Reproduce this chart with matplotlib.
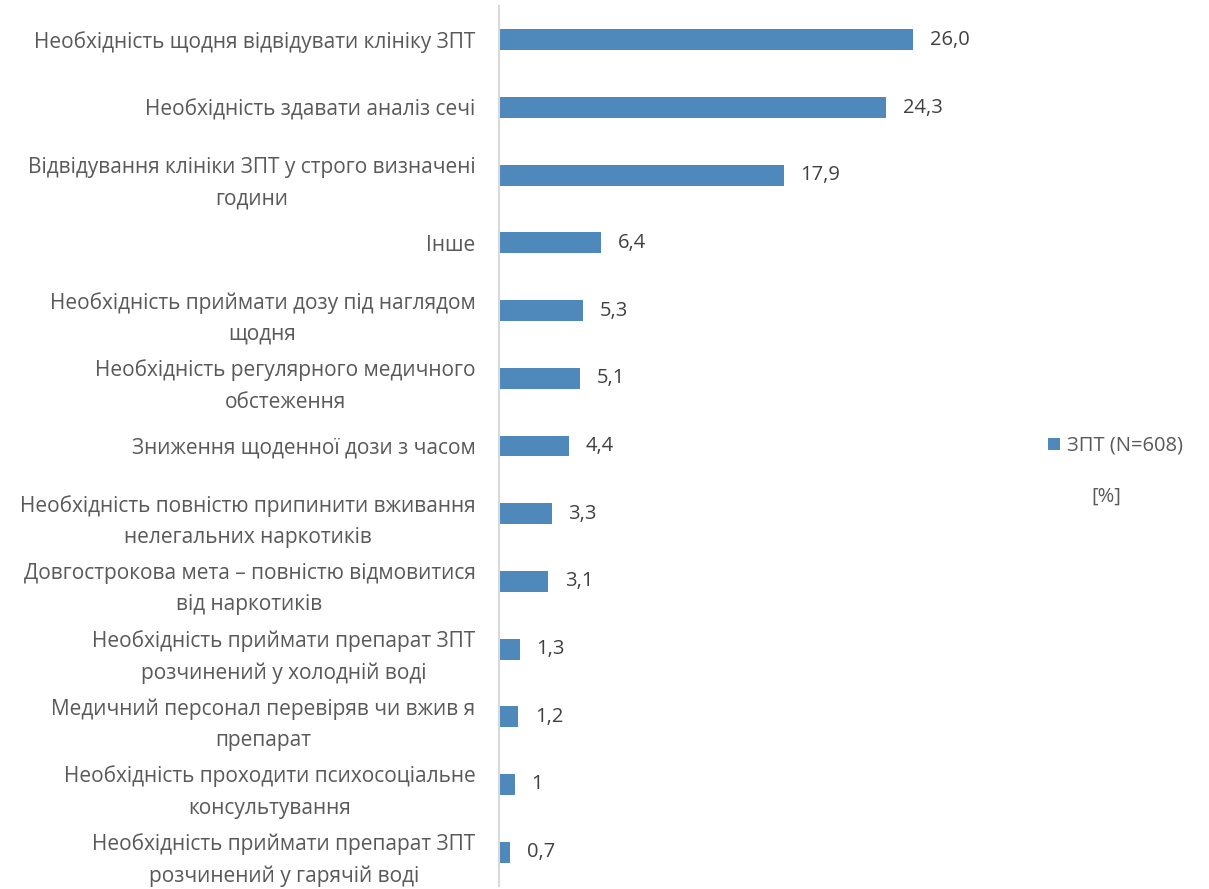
import matplotlib.pyplot as plt
import numpy as np

plt.rcParams['font.family'] = ['Open Sans', 'DejaVu Sans']

# дані
categories = [
    'Необхідність щодня відвідувати клініку ЗПТ',
    'Необхідність здавати аналіз сечі',
    'Відвідування клініки ЗПТ у строго визначені\nгодини',
    'Інше',
    'Необхідність приймати дозу під наглядом\nщодня',
    'Необхідність регулярного медичного\nобстеження',
    'Зниження щоденної дози з часом',
    'Необхідність повністю припинити вживання\nнелегальних наркотиків',
    'Довгострокова мета – повністю відмовитися\nвід наркотиків',
    'Необхідність приймати препарат ЗПТ\nрозчинений у холодній воді',
    'Медичний персонал перевіряв чи вжив я\nпрепарат',
    'Необхідність проходити психосоціальне\nконсультування',
    'Необхідність приймати препарат ЗПТ\nрозчинений у гарячій воді',
]
values = [26.0, 24.3, 17.9, 6.4, 5.3, 5.1, 4.4, 3.3, 3.1, 1.3, 1.2, 1.0, 0.7]
value_labels = ['26,0', '24,3', '17,9', '6,4', '5,3', '5,1', '4,4', '3,3', '3,1',
                '1,3', '1,2', '1', '0,7']
series_name = 'ЗПТ (N=608)'
unit_label = '[%]'

bar_color = '#4F88BB'
text_color = '#595959'
fs = 14.5

fig = plt.figure(figsize=(12.09, 8.89), dpi=100)
ax = fig.add_axes([499 / 1209, 1 - 886 / 889, 501 / 1209, 880 / 889])

y = np.arange(len(categories))
bars = ax.barh(y, values, height=0.31, color=bar_color, label=series_name)

ax.set_xlim(0, 501 / 15.92)
ax.set_ylim(len(categories) - 0.5, -0.5)

for v, lab, yy in zip(values, value_labels, y):
    ax.annotate(lab, (v, yy), xytext=(12, 0), textcoords='offset points',
                ha='left', va='center', fontsize=fs, color='#404040')

ax.set_yticks(y)
ax.set_yticklabels(categories, fontsize=15, color=text_color, linespacing=1.65)
for t in ax.get_yticklabels():
    t.set_multialignment('center')
ax.tick_params(axis='y', length=0, pad=17)
ax.set_xticks([])

for s in ['top', 'right', 'bottom']:
    ax.spines[s].set_visible(False)
ax.spines['left'].set_color('#D9D9D9')
ax.spines['left'].set_linewidth(1.5)

leg = fig.legend(handles=[bars], loc='center left', bbox_to_anchor=(1030 / 1209, 1 - 446 / 889),
                 frameon=False, fontsize=fs, handlelength=0.6, handleheight=0.6,
                 handletextpad=0.35, labelcolor=text_color)
fig.text(1106 / 1209, 1 - 497 / 889, unit_label, ha='center', va='center',
         fontsize=fs, color=text_color)

plt.savefig('out.png', dpi=100)
